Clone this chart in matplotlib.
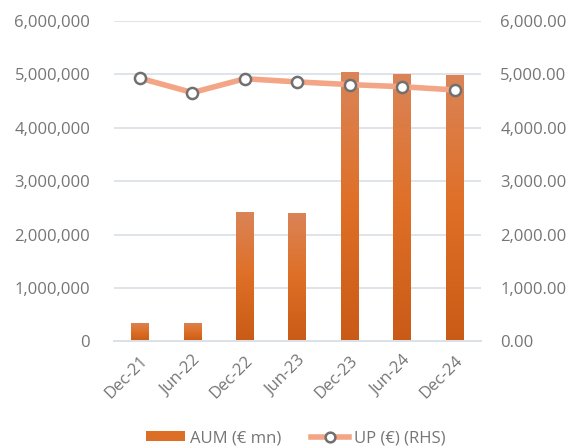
import numpy as np
import matplotlib.pyplot as plt
from matplotlib.ticker import FuncFormatter
from matplotlib.colors import LinearSegmentedColormap
from matplotlib.lines import Line2D
from matplotlib.patches import Patch

plt.rcParams['font.family'] = ['Open Sans', 'DejaVu Sans']

# data
periods = ['Dec-21', 'Jun-22', 'Dec-22', 'Jun-23', 'Dec-23', 'Jun-24', 'Dec-24']
aum = [350000, 350000, 2430000, 2410000, 5050000, 5010000, 4990000]
up = [4930, 4660, 4920, 4860, 4810, 4770, 4710]

grey = '#757575'
grid_c = '#DCE1E8'
line_c = '#F3A586'

fig = plt.figure(figsize=(5.69, 4.48), dpi=100)
ax = fig.add_axes([0.2, 0.238, 0.645, 0.715])
ax2 = ax.twinx()

x = np.arange(len(periods))
bars = ax.bar(x, aum, width=0.34, color='#DD6E26', zorder=2)

# vertical gradient on each bar (lighter top, darker bottom)
cmap = LinearSegmentedColormap.from_list('og', ['#C95B17', '#DF6F26', '#DA8458'])
grad = np.linspace(0, 1, 256).reshape(-1, 1)
for b in bars:
    x0, y0 = b.get_x(), b.get_y()
    w, h = b.get_width(), b.get_height()
    im = ax.imshow(grad, cmap=cmap, aspect='auto', origin='lower',
                   extent=[x0, x0 + w, y0, y0 + h], zorder=2.1)
    im.set_clip_path(b)
    b.set_alpha(0)

ax.set_xlim(-0.5, len(periods) - 0.5)
ax.set_ylim(0, 6000000)
ax.set_yticks(np.arange(0, 6000001, 1000000))
ax.yaxis.set_major_formatter(FuncFormatter(lambda v, p: f'{v:,.0f}'))
ax.grid(axis='y', color=grid_c, lw=1.3, zorder=0)
ax.set_axisbelow(True)

ax2.plot(x, up, color=line_c, lw=4, marker='o', ms=8, mfc='white',
         mec='#707070', mew=1.8, zorder=5)
ax2.set_ylim(0, 6000)
ax2.set_yticks(np.arange(0, 6001, 1000))
ax2.yaxis.set_major_formatter(FuncFormatter(lambda v, p: f'{v:,.2f}'))

ax.set_xticks(x)
ax.set_xticklabels(periods, rotation=45, ha='right', rotation_mode='anchor')

for a in (ax, ax2):
    for s in ('top', 'left', 'right'):
        a.spines[s].set_visible(False)
    a.spines['bottom'].set_color(grid_c)
    a.spines['bottom'].set_linewidth(1.3)
    a.tick_params(length=0, colors=grey, labelsize=12)
ax.tick_params(axis='y', pad=17)
ax.tick_params(axis='x', pad=8)
ax2.tick_params(axis='y', pad=14)

handles = [Patch(facecolor='#DD6E26', label='AUM (€ mn)'),
           Line2D([], [], color=line_c, lw=4, marker='o', ms=7, mfc='white',
                  mec='#707070', mew=1.8, label='UP (€) (RHS)')]
fig.legend(handles=handles, loc='center', bbox_to_anchor=(0.52, 0.022), ncol=2,
           frameon=False, fontsize=12, labelcolor=grey, handlelength=2.3,
           handleheight=0.5, columnspacing=1.8, handletextpad=0.3)

fig.savefig('out.png', dpi=100)
